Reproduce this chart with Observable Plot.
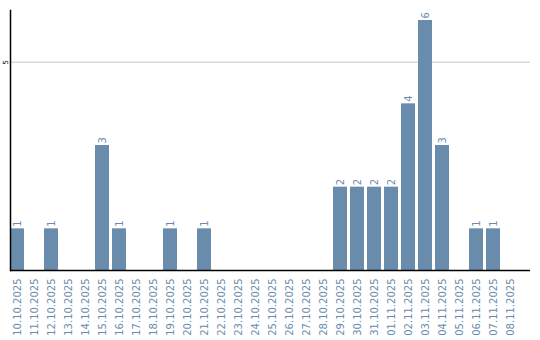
<!DOCTYPE html>
<html>
<head>
<meta charset="utf-8">
<script src="https://cdn.jsdelivr.net/npm/d3@7"></script>
<script src="https://cdn.jsdelivr.net/npm/@observablehq/plot@0.6"></script>
<style>
  html, body { margin: 0; padding: 0; background: #fff; }
</style>
</head>
<body>
<div id="chart"></div>
<script>
const dates = [
  "10.10.2025","11.10.2025","12.10.2025","13.10.2025","14.10.2025","15.10.2025",
  "16.10.2025","17.10.2025","18.10.2025","19.10.2025","20.10.2025","21.10.2025",
  "22.10.2025","23.10.2025","24.10.2025","25.10.2025","26.10.2025","27.10.2025",
  "28.10.2025","29.10.2025","30.10.2025","31.10.2025","01.11.2025","02.11.2025",
  "03.11.2025","04.11.2025","05.11.2025","06.11.2025","07.11.2025","08.11.2025"
];
const counts = [1,0,1,0,0,3,1,0,0,1,0,1,0,0,0,0,0,0,0,2,2,2,2,4,6,3,0,1,1,0];
const yTicks = [5];

const data = dates.map((d, i) => ({date: d, count: counts[i]}));
const barColor = "#6a8cac";
const font = "DejaVu Sans";

const chart = Plot.plot({
  width: 540,
  height: 340,
  marginTop: 10,
  marginBottom: 70,
  marginLeft: 10,
  marginRight: 10,
  style: {fontFamily: font, background: "#fff"},
  x: {type: "band", domain: dates, range: [10, 517], paddingInner: 3/17, paddingOuter: 0},
  y: {domain: [0, 6.24]},
  marks: [
    Plot.gridY(yTicks, {stroke: "#c8c8c8", strokeOpacity: 1}),
    Plot.barY(data, {x: "date", y: "count", fill: barColor}),
    Plot.text(data.filter(d => d.count > 0), {
      x: "date", y: "count", text: d => String(d.count),
      rotate: -90, textAnchor: "start", dx: 0, dy: -2,
      fill: barColor, fontSize: 10, fontFamily: font
    }),
    Plot.axisX({tickSize: 0, tickRotate: -90, tickPadding: 8, fill: barColor, fontSize: 10, fontFamily: font, label: null}),
    Plot.axisY({ticks: yTicks, tickFormat: d => String(d), tickSize: 0, tickRotate: -90, tickPadding: 3, fontSize: 7, fill: "#000", label: null}),
    Plot.ruleY([0], {stroke: "#000", strokeWidth: 1.5}),
    Plot.frame({anchor: "left", stroke: "#000", strokeWidth: 1.5})
  ]
});
document.getElementById("chart").appendChild(chart);
</script>
</body>
</html>
